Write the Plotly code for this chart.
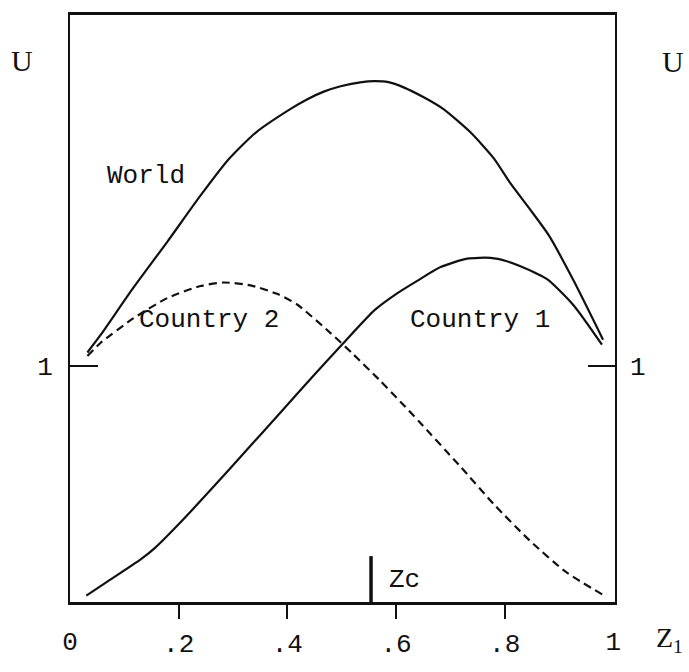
import plotly.graph_objects as go

# World utility (solid)
world_x = [0.032, 0.056, 0.117, 0.179, 0.240, 0.292, 0.342, 0.406, 0.436, 0.467,
           0.498, 0.534, 0.560, 0.586, 0.614, 0.651, 0.688, 0.737, 0.780, 0.810,
           0.847, 0.881, 0.927, 0.981]
world_y = [1.055, 1.128, 1.330, 1.523, 1.718, 1.872, 1.985, 2.085, 2.125, 2.158,
           2.181, 2.197, 2.202, 2.198, 2.176, 2.134, 2.083, 1.986, 1.876, 1.772,
           1.659, 1.551, 1.358, 1.109]

# Country 1 utility (solid)
c1_x = [0.030, 0.068, 0.130, 0.157, 0.203, 0.264, 0.326, 0.387, 0.448, 0.502,
        0.561, 0.602, 0.639, 0.682, 0.731, 0.774, 0.804, 0.829, 0.878, 0.927, 0.979]
c1_y = [0.027, 0.085, 0.180, 0.230, 0.336, 0.487, 0.645, 0.800, 0.957, 1.092,
        1.235, 1.305, 1.358, 1.416, 1.452, 1.455, 1.441, 1.420, 1.365, 1.254, 1.088]

# Country 2 utility (dashed)
c2_x = [0.032, 0.056, 0.117, 0.179, 0.240, 0.283, 0.332, 0.381, 0.418, 0.480,
        0.522, 0.571, 0.608, 0.642, 0.716, 0.781, 0.846, 0.912, 0.981]
c2_y = [1.040, 1.095, 1.200, 1.285, 1.336, 1.351, 1.339, 1.303, 1.258, 1.136,
        1.046, 0.935, 0.847, 0.764, 0.579, 0.411, 0.260, 0.128, 0.030]

# critical Z marker
zc_x = [0.554, 0.554]
zc_y = [0.0, 0.194]

x_ticks = [0.2, 0.4, 0.6, 0.8]
x_tick_text = ['.2', '.4', '.6', '.8']
x_end_ticks = [0, 1]
x_end_text = ['0', '1']

X_RANGE = [0, 1.003]
Y_RANGE = [0, 2.482]

MONO = 'Liberation Mono, Courier New, monospace'
SERIF = 'Liberation Serif, Times New Roman, serif'
INK = '#111111'

fig = go.Figure()

fig.add_trace(go.Scatter(x=world_x, y=world_y, mode='lines',
                         line=dict(color=INK, width=2.2, shape='spline', smoothing=0.6),
                         showlegend=False))
fig.add_trace(go.Scatter(x=c1_x, y=c1_y, mode='lines',
                         line=dict(color=INK, width=2.2, shape='spline', smoothing=0.6),
                         showlegend=False))
fig.add_trace(go.Scatter(x=c2_x, y=c2_y, mode='lines',
                         line=dict(color=INK, width=2.2, dash='8px,5px',
                                   shape='spline', smoothing=0.6),
                         showlegend=False))
fig.add_trace(go.Scatter(x=zc_x, y=zc_y, mode='lines', xaxis='x2', yaxis='y2',
                         line=dict(color=INK, width=3.5), showlegend=False))

# curve labels
fig.add_annotation(x=0.140, y=1.800, text='World', showarrow=False,
                   font=dict(family=MONO, size=26, color=INK))
fig.add_annotation(x=0.255, y=1.192, text='Country 2', showarrow=False,
                   font=dict(family=MONO, size=26, color=INK))
fig.add_annotation(x=0.754, y=1.194, text='Country 1', showarrow=False,
                   font=dict(family=MONO, size=26, color=INK))
fig.add_annotation(x=0.584, y=0.094, text='Zc', showarrow=False, xanchor='left',
                   font=dict(family=MONO, size=26, color=INK))

# axis titles
fig.add_annotation(xref='paper', yref='paper', x=-0.088, y=0.923, text='U',
                   xanchor='center', yanchor='middle',
                   showarrow=False, font=dict(family=SERIF, size=30, color=INK))
fig.add_annotation(xref='paper', yref='paper', x=1.107, y=0.920, text='U',
                   xanchor='center', yanchor='middle',
                   showarrow=False, font=dict(family=SERIF, size=30, color=INK))
fig.add_annotation(xref='paper', yref='paper', x=1.072, y=-0.064,
                   xanchor='left', yanchor='middle',
                   text='Z<sub>1</sub>', showarrow=False,
                   font=dict(family=SERIF, size=28, color=INK))

axis_common = dict(showgrid=False, zeroline=False, fixedrange=True)

fig.update_layout(
    width=689, height=672,
    margin=dict(l=70, r=74, t=15, b=58),
    paper_bgcolor='white', plot_bgcolor='white',
    xaxis=dict(range=X_RANGE, tickvals=x_ticks, ticktext=x_tick_text,
               ticks='outside', ticklen=14, tickwidth=2, tickcolor=INK,
               showline=True, mirror=True, linecolor=INK, linewidth=2.5,
               ticklabelstandoff=2,
               tickfont=dict(family=MONO, size=26, color=INK), **axis_common),
    xaxis2=dict(range=X_RANGE, overlaying='x', anchor='y', side='bottom',
                tickvals=x_end_ticks, ticktext=x_end_text,
                ticks='outside', ticklen=14, tickwidth=2, tickcolor='rgba(0,0,0,0)',
                showline=False, ticklabelstandoff=2,
                tickfont=dict(family=MONO, size=26, color=INK), **axis_common),
    yaxis=dict(range=Y_RANGE, tickvals=[1], ticktext=['1'],
               ticks='inside', ticklen=28, tickwidth=2, tickcolor=INK,
               showline=True, mirror=True, linecolor=INK, linewidth=2,
               ticklabelstandoff=10,
               tickfont=dict(family=MONO, size=26, color=INK), **axis_common),
    yaxis2=dict(range=Y_RANGE, overlaying='y', anchor='x', side='right',
                tickvals=[1], ticktext=['1'],
                ticks='inside', ticklen=27, tickwidth=2, tickcolor=INK,
                showline=False, ticklabelstandoff=14,
                tickfont=dict(family=MONO, size=26, color=INK), **axis_common),
)

# drop the browser's default body margin so the figure sits at the page corner
fig.write_html('out.html', config={'displayModeBar': False},
               post_script="document.body.style.margin='0';")
